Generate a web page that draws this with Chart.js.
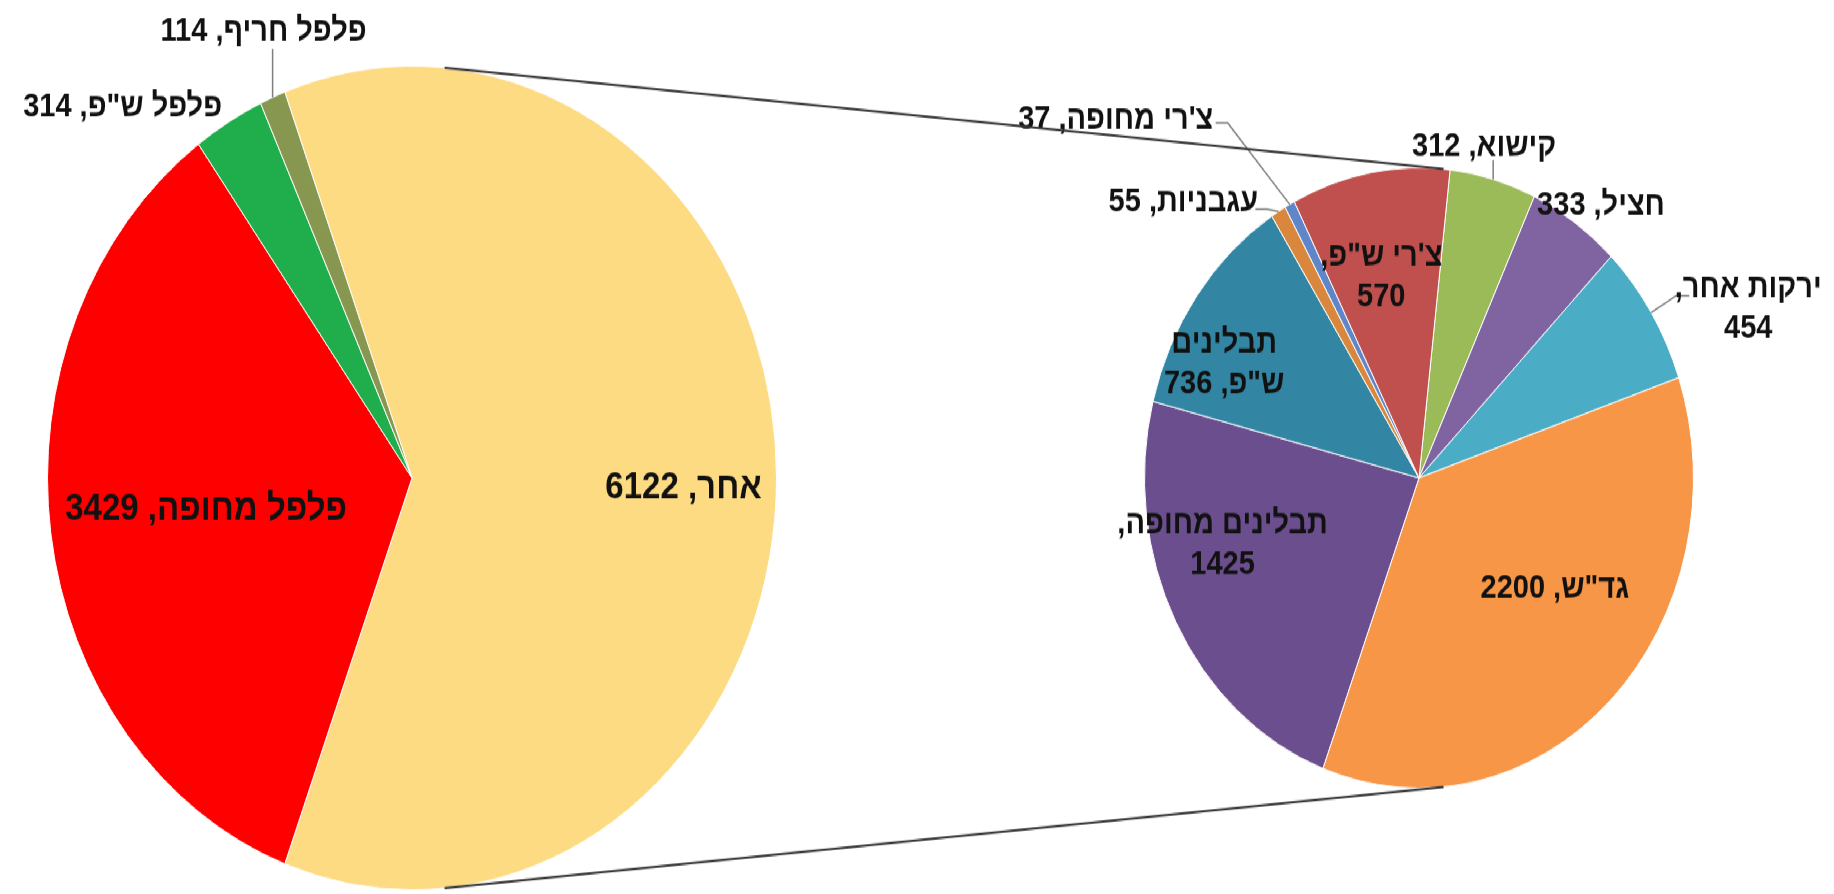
<!DOCTYPE html>
<html>
<head>
<meta charset="utf-8">
<script src="https://cdn.jsdelivr.net/npm/chart.js@4.4.1/dist/chart.umd.min.js"></script>
<style>
  html, body { margin: 0; padding: 0; background: #fff; overflow: hidden; }
  #frame { position: relative; width: 1834px; height: 894px; overflow: hidden; }
  /* the original picture is stretched vertically, so the pies come out as ellipses */
  #stage { position: absolute; left: 0; top: 0; width: 1834px; height: 791px; transform: scaleY(1.13); transform-origin: 0 0; }
  #stage canvas { position: absolute; left: 0; top: 0; }
</style>
</head>
<body>
<div id="frame">
  <div id="stage">
    <canvas id="mainPie" width="1834" height="791"></canvas>
    <canvas id="subPie" width="1834" height="791"></canvas>
  </div>
</div>
<script>
// primary pie
var mainLabels = ['אחר', 'פלפל מחופה', 'פלפל ש"פ', 'פלפל חריף'];
var mainValues = [6122, 3429, 314, 114];
var mainColors = ['#FDDB82', '#FF0000', '#1FAE4B', '#87974F'];

// secondary pie: breakdown of "אחר"
var subLabels = ['קישוא', 'חציל', 'ירקות אחר', 'גד"ש', 'תבלינים מחופה', 'תבלינים ש"פ', 'עגבניות', "צ'רי מחופה", "צ'רי ש\"פ"];
var subValues = [312, 333, 454, 2200, 1425, 736, 55, 37, 570];
var subColors = ['#9BBB59', '#8064A2', '#4BACC6', '#F79646', '#6B4E8D', '#3386A3', '#D8873C', '#5E86C8', '#C0504D'];

var W = 1834, H = 791;
var MAIN = { cx: 412, cy: 423, r: 365 };
var SUB = { cx: 1419, cy: 423, r: 275 };
var SUB_ROTATION = 6.5;

// label placement: f = fraction of radius along the slice middle, dx/dy = extra shift,
// leader = points relative to the label centre, wrap = how to split into lines
var mainLayout = [
  { f: 0.745, dx: 0, dy: 9, size: 33 },
  { f: 0.57, dx: 0, dy: 0, size: 33 },
  { f: 1, dx: -106, dy: -13 },
  { f: 1, dx: -9, dy: -58, leader: [[9, 15]] }
];
var subLayout = [
  { f: 1, dx: -9, dy: -29, leader: [[9, 12]] },
  { f: 1, dx: 26, dy: -15 },
  { f: 1, dx: 97, dy: -4, wrap: 'value', leader: [[-72, -11], [-59, -11]] },
  { f: 0.6, dx: 21, dy: -20 },
  { f: 0.75, dx: -14, dy: -36, wrap: 'value' },
  { f: 0.8, dx: -17, dy: 28, wrap: 'word' },
  { f: 1, dx: -95, dy: -8, leader: [[84, 6], [72, 6]] },
  { f: 1, dx: -174, dy: -75, leader: [[112, 3], [100, 3]] },
  { f: 0.67, dx: -5, dy: 3, wrap: 'value' }
];

function wrapLabel(name, value, mode) {
  if (mode === 'value') return [name + ',', String(value)];
  if (mode === 'word') {
    var sp = name.indexOf(' ');
    return [name.slice(0, sp), name.slice(sp + 1) + ', ' + value];
  }
  return [name + ', ' + value];
}

var sliceLabels = {
  id: 'sliceLabels',
  afterDatasetsDraw: function(chart, args, opts) {
    var ctx = chart.ctx;
    var meta = chart.getDatasetMeta(0);
    var values = chart.data.datasets[0].data;
    ctx.save();
    ctx.direction = 'rtl';
    ctx.textAlign = 'center';
    ctx.textBaseline = 'middle';
    meta.data.forEach(function(arc, i) {
      var lay = opts.layout[i];
      var mid = (arc.startAngle + arc.endAngle) / 2;
      var r = arc.outerRadius;
      var ex = arc.x + Math.cos(mid) * r;
      var ey = arc.y + Math.sin(mid) * r;
      var lx = arc.x + Math.cos(mid) * r * lay.f + lay.dx;
      var ly = arc.y + Math.sin(mid) * r * lay.f + lay.dy;
      if (lay.leader) {
        ctx.beginPath();
        ctx.strokeStyle = '#7F7F7F';
        ctx.lineWidth = 1.5;
        ctx.moveTo(ex, ey);
        lay.leader.forEach(function(p) { ctx.lineTo(lx + p[0], ly + p[1]); });
        ctx.stroke();
      }
      var lines = wrapLabel(chart.data.labels[i], values[i], lay.wrap);
      var lh = 36;
      var y0 = ly - (lines.length - 1) * lh / 2;
      ctx.font = 'bold ' + (lay.size || 29) + 'px "Liberation Sans", Arial, sans-serif';
      ctx.fillStyle = '#111';
      lines.forEach(function(t, k) { ctx.fillText(t, lx, y0 + k * lh); });
    });
    ctx.restore();
  }
};

// tangent lines joining the two pies
var seriesLines = {
  id: 'seriesLines',
  afterDatasetsDraw: function(chart) {
    if (!mainChart) return;
    var a = mainChart.getDatasetMeta(0).data[0];
    var b = chart.getDatasetMeta(0).data[0];
    var dx = b.x - a.x, dy = b.y - a.y;
    var d = Math.sqrt(dx * dx + dy * dy);
    var phi = Math.atan2(dy, dx);
    var alpha = Math.acos((a.outerRadius - b.outerRadius) / d);
    var ctx = chart.ctx;
    ctx.save();
    ctx.strokeStyle = '#333333';
    ctx.lineWidth = 2;
    [phi - alpha, phi + alpha].forEach(function(t) {
      ctx.beginPath();
      ctx.moveTo(a.x + a.outerRadius * Math.cos(t), a.y + a.outerRadius * Math.sin(t));
      ctx.lineTo(b.x + b.outerRadius * Math.cos(t), b.y + b.outerRadius * Math.sin(t));
      ctx.stroke();
    });
    ctx.restore();
  }
};

function padFor(p) {
  return { left: p.cx - p.r, right: W - p.cx - p.r, top: p.cy - p.r, bottom: H - p.cy - p.r };
}

function pieConfig(labels, values, colors, rotation, layout, pad, extra) {
  return {
    type: 'pie',
    data: {
      labels: labels,
      datasets: [{ data: values, backgroundColor: colors, borderColor: '#FFFFFF', borderWidth: 1 }]
    },
    options: {
      responsive: false,
      animation: false,
      events: [],
      rotation: rotation,
      layout: { padding: pad },
      plugins: {
        legend: { display: false },
        tooltip: { enabled: false },
        sliceLabels: { layout: layout }
      }
    },
    plugins: [sliceLabels].concat(extra)
  };
}

var mainTotal = mainValues.reduce(function(s, v) { return s + v; }, 0);
// the "אחר" slice is centred on the right side, facing the secondary pie
var mainRotation = 90 - mainValues[0] / mainTotal * 180;

var mainChart = null;
mainChart = new Chart(document.getElementById('mainPie'),
  pieConfig(mainLabels, mainValues, mainColors, mainRotation, mainLayout, padFor(MAIN), []));
var subChart = new Chart(document.getElementById('subPie'),
  pieConfig(subLabels, subValues, subColors, SUB_ROTATION, subLayout, padFor(SUB), [seriesLines]));
</script>
</body>
</html>
